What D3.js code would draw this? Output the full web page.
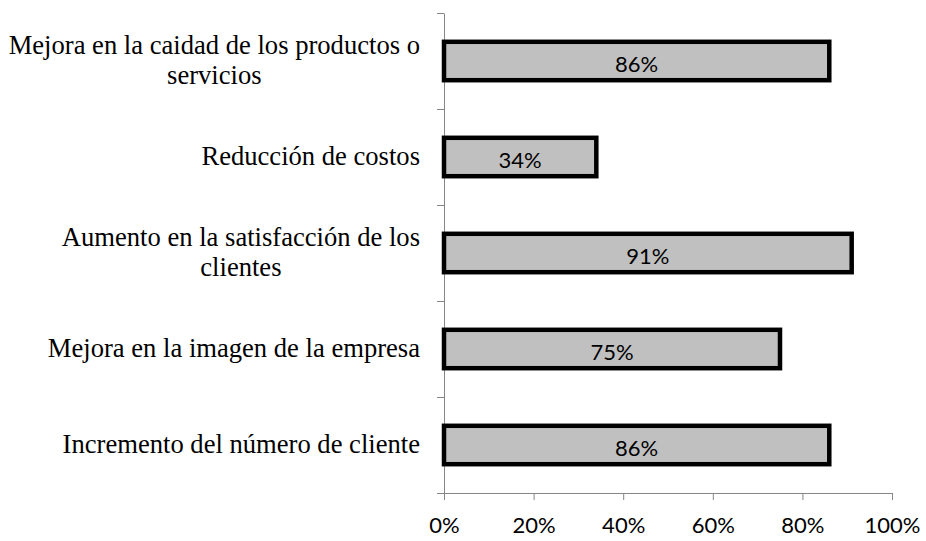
<!DOCTYPE html>
<html lang="es">
<head>
<meta charset="UTF-8">
<title>Beneficios</title>
<script src="https://d3js.org/d3.v7.min.js"></script>
<style>
  body { margin: 0; background: #fff; }
</style>
</head>
<body>
<script>
// categories top to bottom, values in percent
const categories = [
  "Mejora en la caidad de los productos o servicios",
  "Reducción de costos",
  "Aumento en la satisfacción de los clientes",
  "Mejora en la imagen de la empresa",
  "Incremento del número de cliente"
];
const values = [86, 34, 91, 75, 86];
const xTicks = [0, 20, 40, 60, 80, 100];

const W = 926, H = 541;
const plotLeft = 444, plotRight = 892, plotTop = 13, plotBottom = 493;
const axisColor = "#868686";

const svg = d3.select("body").append("svg")
    .attr("width", W)
    .attr("height", H);

const x = d3.scaleLinear().domain([0, 100]).range([plotLeft, plotRight]);
const y = d3.scaleBand().domain(categories).range([plotTop, plotBottom]);
// boundaries between categories, for the y axis ticks
const yEdge = d3.scaleLinear().domain([0, categories.length]).range([plotTop, plotBottom]);

// x axis
const xAxis = svg.append("g")
    .attr("transform", "translate(0," + plotBottom + ")")
    .call(d3.axisBottom(x).tickValues(xTicks).tickSize(7).tickSizeOuter(0)
        .tickFormat(d => d + "%"));
xAxis.select(".domain").attr("stroke", axisColor);
xAxis.selectAll(".tick line").attr("stroke", axisColor);
xAxis.selectAll(".tick text")
    .attr("y", 40).attr("dy", 0)
    .attr("fill", "#000")
    .style("font-family", "Lato, 'Open Sans', sans-serif")
    .style("font-size", "22px");

// y axis, ticks between the categories
const yAxis = svg.append("g")
    .attr("transform", "translate(" + plotLeft + ",0)")
    .call(d3.axisLeft(yEdge).tickValues(d3.range(categories.length + 1))
        .tickSize(7).tickSizeOuter(0).tickFormat(""));
yAxis.select(".domain").attr("stroke", axisColor);
yAxis.selectAll(".tick line").attr("stroke", axisColor);

// bars
const barH = y.bandwidth() * 0.4;
svg.selectAll(".bar")
    .data(categories)
    .enter().append("rect")
    .attr("class", "bar")
    .attr("x", x(0))
    .attr("y", d => y(d) + (y.bandwidth() - barH) / 2)
    .attr("width", (d, i) => x(values[i]) - x(0))
    .attr("height", barH)
    .attr("fill", "#c0c0c0")
    .attr("stroke", "#000")
    .attr("stroke-width", 4.5);

// value labels
svg.selectAll(".val")
    .data(categories)
    .enter().append("text")
    .attr("class", "val")
    .attr("x", (d, i) => (x(0) + x(values[i])) / 2)
    .attr("y", d => y(d) + y.bandwidth() / 2 + 11)
    .attr("text-anchor", "middle")
    .style("font-family", "Lato, 'Open Sans', sans-serif")
    .style("font-size", "22px")
    .text((d, i) => values[i] + "%");

// category labels, wrapped and centred in a right-aligned block
const labelRight = 420, maxWidth = 415, lineH = 30;
categories.forEach(cat => {
    const g = svg.append("text")
        .style("font-family", "'Liberation Serif', 'Times New Roman', serif")
        .style("font-size", "26.6px")
        .attr("text-anchor", "middle");
    const words = cat.split(" ");
    const lines = [];
    let line = [];
    const probe = g.append("tspan");
    words.forEach(w => {
        line.push(w);
        probe.text(line.join(" "));
        if (probe.node().getComputedTextLength() > maxWidth && line.length > 1) {
            line.pop();
            lines.push(line.join(" "));
            line = [w];
        }
    });
    lines.push(line.join(" "));
    let widest = 0;
    lines.forEach(l => {
        probe.text(l);
        widest = Math.max(widest, probe.node().getComputedTextLength());
    });
    probe.remove();
    const cx = labelRight - widest / 2;
    const cy = y(cat) + y.bandwidth() / 2;
    lines.forEach((l, i) => {
        g.append("tspan")
            .attr("x", cx)
            .attr("y", cy + (i - (lines.length - 1) / 2) * lineH + 7.5)
            .text(l);
    });
});
</script>
</body>
</html>
